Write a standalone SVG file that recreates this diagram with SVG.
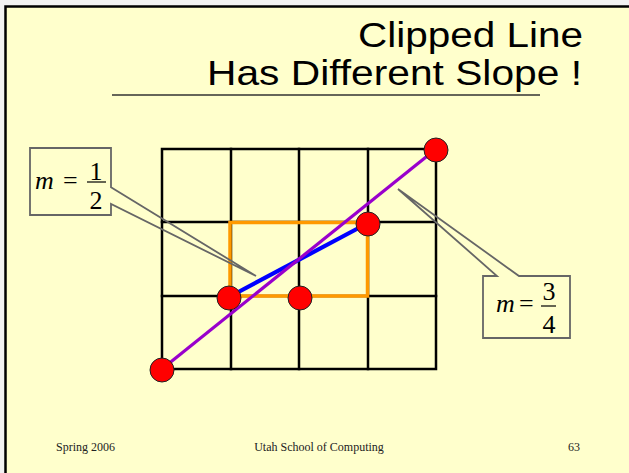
<svg xmlns="http://www.w3.org/2000/svg" width="629" height="473" viewBox="0 0 629 473">
<style>
.grid{stroke:#000;stroke-width:2.5;fill:none;stroke-linecap:square}
.dot{fill:#FF0000;stroke:#222;stroke-width:1}
.callout{fill:none;stroke:#666;stroke-width:1.8;stroke-linejoin:miter}
.title{font-family:"Liberation Sans",Arial,sans-serif;font-size:35px;fill:#000}
.foot{font-family:"Liberation Serif","Times New Roman",serif;font-size:12px;fill:#222}
.math{font-family:"Liberation Serif","Times New Roman",serif;font-size:26px;fill:#000}
.mi{font-style:italic}
</style>
<rect x="0" y="0" width="629" height="473" fill="#F2F2F2"/>
<rect x="5.5" y="6.5" width="700" height="600" fill="#FFFFCC" stroke="#000" stroke-width="2.5"/>
<g id="title">
<text class="title" x="583" y="47" text-anchor="end" textLength="225" lengthAdjust="spacingAndGlyphs">Clipped Line</text>
<text class="title" x="582" y="85" text-anchor="end" textLength="375" lengthAdjust="spacingAndGlyphs">Has Different Slope !</text>
<line x1="112" y1="95" x2="540" y2="95" stroke="#333" stroke-width="1.6"/>
</g>
<g id="grid">
<rect class="grid" x="162" y="149" width="274" height="220"/>
<line class="grid" x1="231" y1="149" x2="231" y2="369"/>
<line class="grid" x1="299" y1="149" x2="299" y2="369"/>
<line class="grid" x1="368" y1="149" x2="368" y2="369"/>
<line class="grid" x1="162" y1="222" x2="436" y2="222"/>
<line class="grid" x1="162" y1="296" x2="436" y2="296"/>
</g>
<g id="clip-window">
<rect x="230" y="222.5" width="137.5" height="73.5" fill="none" stroke="#FF9900" stroke-width="3.5"/>
</g>
<g id="connectors">
<line id="clipped-line" x1="229" y1="297" x2="368" y2="223" stroke="#0000FF" stroke-width="4.2"/>
<line id="original-line" x1="162" y1="369" x2="436" y2="149" stroke="#9900CC" stroke-width="3.2"/>
</g>
<g id="points">
<circle class="dot" cx="162" cy="370" r="12"/>
<circle class="dot" cx="229" cy="298" r="12"/>
<circle class="dot" cx="300" cy="298" r="12"/>
<circle class="dot" cx="368" cy="224" r="12"/>
<circle class="dot" cx="436" cy="150" r="12"/>
</g>
<g id="callout-half">
<path class="callout" d="M30,148 H111 V187.3 L256,276 L111,204 V215 H30 Z"/>
<text class="math mi" x="35" y="189">m</text>
<text class="math" x="63" y="189">=</text>
<text class="math" x="96" y="180" text-anchor="middle">1</text>
<line x1="87" y1="182" x2="106" y2="182" stroke="#000" stroke-width="1.2"/>
<text class="math" x="96" y="209" text-anchor="middle">2</text>
</g>
<g id="callout-three-quarters">
<path class="callout" d="M483,276 H497 L398,189 L519,276 H570 V338 H483 Z"/>
<text class="math mi" x="496" y="312">m</text>
<text class="math" x="519" y="312">=</text>
<text class="math" x="549" y="300" text-anchor="middle">3</text>
<line x1="541" y1="306" x2="556" y2="306" stroke="#000" stroke-width="1.2"/>
<text class="math" x="549" y="333" text-anchor="middle">4</text>
</g>
<g id="footer">
<text class="foot" x="56" y="451">Spring 2006</text>
<text class="foot" x="319" y="451" text-anchor="middle">Utah School of Computing</text>
<text class="foot" x="580" y="451" text-anchor="end">63</text>
</g>
</svg>
